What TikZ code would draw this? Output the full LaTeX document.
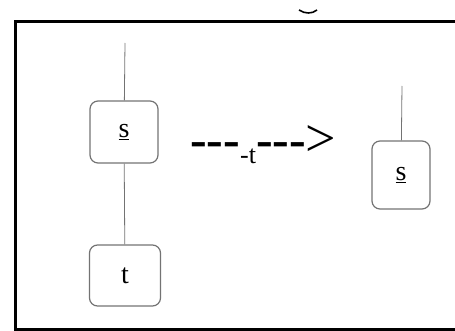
\documentclass[tikz,border=0pt]{standalone}
\usepackage{fontspec}
\setmainfont{Liberation Serif}
\begin{document}
\begin{tikzpicture}[x=1pt, y=-1pt,
  termbox/.style={draw=black!55, line width=1.2pt, rounded corners=8pt, inner sep=0pt, font=\fontsize{28}{30}\selectfont},
  edge/.style={draw=black!55, line width=0.8pt}]
\useasboundingbox (0,0) rectangle (455,331);
\draw[line width=3pt] (470,21.5) -- (15.5,21.5) -- (15.5,329) -- (470,329);
\draw[line width=1.6pt] (299,10) .. controls (305,14) and (312,14) .. (317,10);
\coordinate (stop) at (125,43);
\node[termbox, minimum width=68pt, minimum height=62pt] (sbox) at (124,132){\underline{s}};
\node[termbox, minimum width=71pt, minimum height=61pt] (tbox) at (125,275.5){t};
\draw[edge](stop) -- (sbox);
\draw[edge](sbox) -- (tbox);
\node[font=\fontsize{26}{28}\selectfont, inner sep=0pt, anchor=west] (rule) at (190,145){{\bfseries\fontsize{50}{50}\selectfont -{}-{}-}\raisebox{-0.6ex}{-t}{\bfseries\fontsize{50}{50}\selectfont -{}-{}-}{\fontsize{54}{54}\selectfont >}};
\coordinate (s2top) at (402,86);
\node[termbox, minimum width=58pt, minimum height=68pt] (s2box) at (401,175){\underline{s}};
\draw[edge](s2top) -- (s2box);
\end{tikzpicture}
\end{document}
